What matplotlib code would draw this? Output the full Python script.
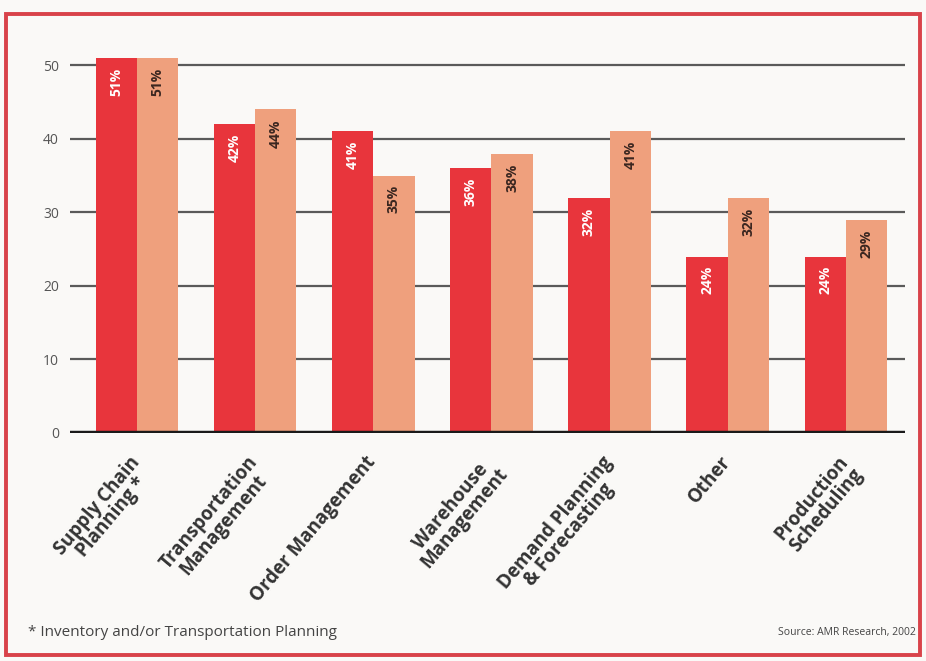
import matplotlib.pyplot as plt
import numpy as np
from matplotlib.patches import Rectangle

# カテゴリと値
categories = ['Supply Chain\nPlanning *', 'Transportation\nManagement', 'Order Management',
              'Warehouse\nManagement', 'Demand Planning\n& Forecasting', 'Other',
              'Production\nScheduling']
red_values = [51, 42, 41, 36, 32, 24, 24]
orange_values = [51, 44, 35, 38, 41, 32, 29]
y_ticks = [0, 10, 20, 30, 40, 50]

RED = '#e8353c'
ORANGE = '#efa07d'

plt.rcParams['font.family'] = ['Open Sans', 'DejaVu Sans']

fig = plt.figure(figsize=(9.26, 6.61), dpi=100)
fig.patch.set_facecolor('#faf9f7')
ax = fig.add_axes([70 / 926, 1 - 433 / 661, (905 - 70) / 926, (433 - 30) / 661])
ax.set_facecolor('none')

x = np.arange(len(categories))
w = 0.35
bars_r = ax.bar(x - w / 2, red_values, w, color=RED, zorder=3)
bars_o = ax.bar(x + w / 2, orange_values, w, color=ORANGE, zorder=3)

# バー内のラベル
for b, v in zip(bars_r, red_values):
    ax.annotate(f'{v}%', (b.get_x() + b.get_width() / 2, b.get_height()),
                xytext=(0, -7), textcoords='offset points', rotation=90,
                ha='center', va='top', color='white', fontsize=10,
                fontweight='bold', zorder=4)
for b, v in zip(bars_o, orange_values):
    ax.annotate(f'{v}%', (b.get_x() + b.get_width() / 2, b.get_height()),
                xytext=(0, -7), textcoords='offset points', rotation=90,
                ha='center', va='top', color='#3a2620', fontsize=10,
                fontweight='bold', zorder=4)

ax.set_xlim(-0.566, 6.5)
ax.set_ylim(0, 54.8)
ax.set_yticks(y_ticks)
ax.set_yticklabels([str(t) for t in y_ticks], color='#555555', fontsize=10)
ax.tick_params(axis='y', length=0, pad=8)
ax.set_xticks([])
ax.grid(axis='y', color='#5a5a5a', linewidth=1.6, zorder=1)
for s in ax.spines.values():
    s.set_visible(False)
ax.axhline(0, color='#1a1a1a', linewidth=3.2, zorder=5)

# 斜めのカテゴリラベル
for xi, lab in zip(x, categories):
    ax.annotate(lab, (xi, 0), xytext=(-6, -14), textcoords='offset points',
                rotation=50, rotation_mode='anchor', ha='right', va='top',
                multialignment='center', fontsize=13.5, fontweight='bold',
                color='#333333', linespacing=0.9)

fig.text(28 / 926, 1 - 632 / 661, '* Inventory and/or Transportation Planning',
         fontsize=11, color='#444444', va='center', ha='left')
fig.text(916 / 926, 1 - 632 / 661, 'Source: AMR Research, 2002',
         fontsize=7.5, color='#444444', va='center', ha='right')

# 赤い枠
fig.patches.append(Rectangle((6 / 926, 1 - 655 / 661), (920 - 6) / 926, (655 - 14) / 661,
                             transform=fig.transFigure, fill=False,
                             edgecolor='#d9434a', linewidth=2.8))

fig.savefig('out.png', dpi=100, facecolor=fig.get_facecolor())
